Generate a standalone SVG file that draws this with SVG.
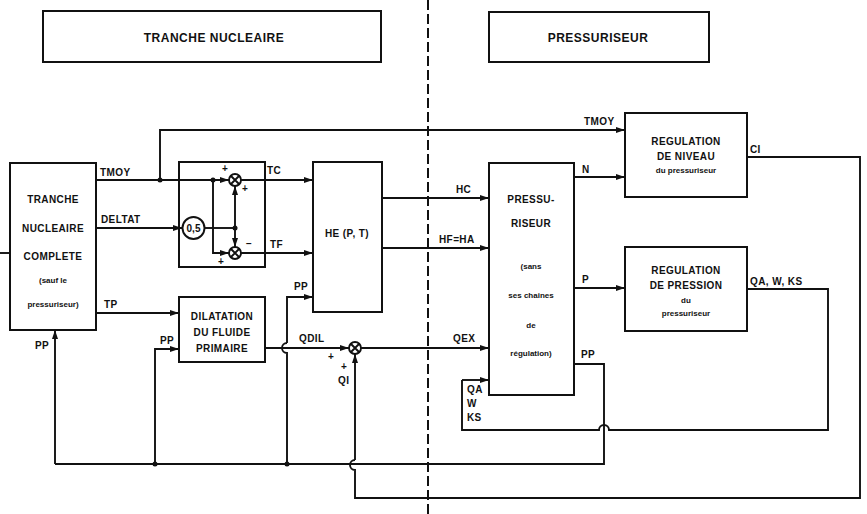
<svg xmlns="http://www.w3.org/2000/svg" width="867" height="514" viewBox="0 0 867 514">
<style>
.b{fill:none;stroke:#111;stroke-width:2}
.l{fill:none;stroke:#111;stroke-width:1.9}
.a{fill:none;stroke:#111;stroke-width:1.9;marker-end:url(#ar)}
text{font-family:"Liberation Sans",Arial,sans-serif;font-weight:bold;fill:#111}
.t{font-size:12px;letter-spacing:0.5px}
.s{font-size:10px;letter-spacing:0.4px}
.x{font-size:8px}
.m{text-anchor:middle}
.d{fill:#111}
</style>
<defs>
<marker id="ar" markerUnits="userSpaceOnUse" markerWidth="9" markerHeight="6" refX="9" refY="3" orient="auto">
<path d="M0,0 L9,3 L0,6 z" fill="#111"/>
</marker>
</defs>
<rect width="867" height="514" fill="#fff"/>
<g id="title-tranche"><rect class="b" x="43" y="11" width="338" height="51"/><text class="t m" x="214" y="42">TRANCHE NUCLEAIRE</text></g>
<g id="title-pressuriseur"><rect class="b" x="489" y="12" width="220" height="50"/><text class="t m" x="598" y="42">PRESSURISEUR</text></g>
<line x1="428" y1="0" x2="428" y2="514" stroke="#111" stroke-width="2" stroke-dasharray="10,4"/>
<g id="tranche"><rect class="b" x="10" y="163" width="86" height="167"/>
<text class="s m" x="53" y="203">TRANCHE</text><text class="s m" x="53" y="232">NUCLEAIRE</text><text class="s m" x="53" y="260">COMPLETE</text><text class="x m" x="53" y="283">(sauf le</text><text class="x m" x="53" y="307">pressuriseur)</text></g>
<g id="sommation"><rect class="b" x="179" y="162" width="86" height="105"/>
<circle class="l" cx="193.5" cy="228" r="11"/><text class="s m" x="193.5" y="232" style="letter-spacing:0">0,5</text>
<circle class="l" cx="235" cy="180" r="6"/><path class="l" d="M231,176 L239,184 M239,176 L231,184"/>
<circle class="l" cx="235" cy="253" r="6"/><path class="l" d="M231,249 L239,257 M239,249 L231,257"/>
<text class="s m" x="225" y="172">+</text><text class="s m" x="245" y="192">+</text><text class="s m" x="249" y="247">−</text><text class="s m" x="221" y="265">+</text></g>
<g id="he"><rect class="b" x="313" y="162" width="69" height="150"/><text class="s m" x="347" y="237">HE (P, T)</text></g>
<g id="dilatation"><rect class="b" x="179" y="297" width="86" height="65"/>
<text class="s m" x="222" y="320">DILATATION</text><text class="s m" x="222" y="336">DU FLUIDE</text><text class="s m" x="222" y="352">PRIMAIRE</text></g>
<g id="sommation-q"><circle class="l" cx="355" cy="348" r="6"/><path class="l" d="M351,344 L359,352 M359,344 L351,352"/>
<text class="s m" x="331" y="360">+</text><text class="s m" x="344" y="370">+</text></g>
<g id="pressuriseur"><rect class="b" x="489" y="163" width="85" height="232"/>
<text class="s m" x="531" y="203">PRESSU-</text><text class="s m" x="531" y="227">RISEUR</text><text class="x m" x="531" y="269">(sans</text><text class="x m" x="531" y="298">ses chaines</text><text class="x m" x="531" y="328">de</text><text class="x m" x="531" y="356">régulation)</text></g>
<g id="regulation-niveau"><rect class="b" x="625" y="113" width="122" height="84"/>
<text class="s m" x="686" y="145">REGULATION</text><text class="s m" x="686" y="160">DE NIVEAU</text><text class="x m" x="686" y="173">du pressuriseur</text></g>
<g id="regulation-pression"><rect class="b" x="625" y="247" width="122" height="84"/>
<text class="s m" x="686" y="274">REGULATION</text><text class="s m" x="686" y="289">DE PRESSION</text><text class="x m" x="686" y="303">du</text><text class="x m" x="686" y="316">pressuriseur</text></g>
<g id="connectors">
<line class="l" x1="0" y1="253" x2="10" y2="253"/>
<path class="a" d="M96,180 H229"/>
<path class="a" d="M160,180 V130 H625"/>
<path class="a" d="M213,180 V253 H229"/>
<path class="a" d="M96,228 H182"/>
<path class="l" d="M204.5,228 H235"/>
<path class="a" d="M235,228 V186"/>
<path class="a" d="M235,228 V247"/>
<path class="a" d="M241,180 H313"/>
<path class="a" d="M241,253 H313"/>
<path class="a" d="M382,198 H489"/>
<path class="a" d="M382,248 H489"/>
<path class="a" d="M96,313 H179"/>
<path class="a" d="M265,348 H349"/>
<path class="a" d="M361,348 H489"/>
<path class="a" d="M574,177 H625"/>
<path class="a" d="M574,288 H625"/>
<path class="l" d="M747,157 H860 V498 H355 V470 A5,5 0 0 1 355,460"/>
<path class="a" d="M355,460 V354"/>
<path class="l" d="M574,364 H604 V464 H55"/>
<path class="a" d="M55,464 V330"/>
<path class="a" d="M155,464 V349 H179"/>
<path class="l" d="M287,464 V353 A5,5 0 0 1 287,343"/>
<path class="a" d="M287,343 V297 H313"/>
<path class="l" d="M747,289 H828 V430 H609 A5,5 0 0 0 599,430 H462 V380"/>
<path class="a" d="M462,380 H489"/>
<circle class="d" cx="160" cy="180" r="2.5"/>
<circle class="d" cx="213" cy="180" r="2.5"/>
<circle class="d" cx="235" cy="228" r="2.5"/>
<circle class="d" cx="155" cy="464" r="2.5"/>
<circle class="d" cx="287" cy="464" r="2.5"/>
</g>
<g id="labels">
<text class="s" x="100" y="176">TMOY</text>
<text class="s" x="101" y="223">DELTAT</text>
<text class="s" x="104" y="308">TP</text>
<text class="s" x="35" y="349">PP</text>
<text class="s" x="160" y="344">PP</text>
<text class="s" x="294" y="290">PP</text>
<text class="s" x="267" y="174">TC</text>
<text class="s" x="270" y="248">TF</text>
<text class="s" x="299" y="342">QDIL</text>
<text class="s" x="338" y="384">QI</text>
<text class="s" x="456" y="193">HC</text>
<text class="s" x="439" y="243">HF=HA</text>
<text class="s" x="453" y="342">QEX</text>
<text class="s" x="467" y="393">QA</text>
<text class="s" x="467" y="407">W</text>
<text class="s" x="467" y="421">KS</text>
<text class="s" x="584" y="125">TMOY</text>
<text class="s" x="582" y="173">N</text>
<text class="s" x="582" y="283">P</text>
<text class="s" x="581" y="358">PP</text>
<text class="s" x="750" y="153">CI</text>
<text class="s" x="750" y="285">QA, W, KS</text>
</g>
</svg>
